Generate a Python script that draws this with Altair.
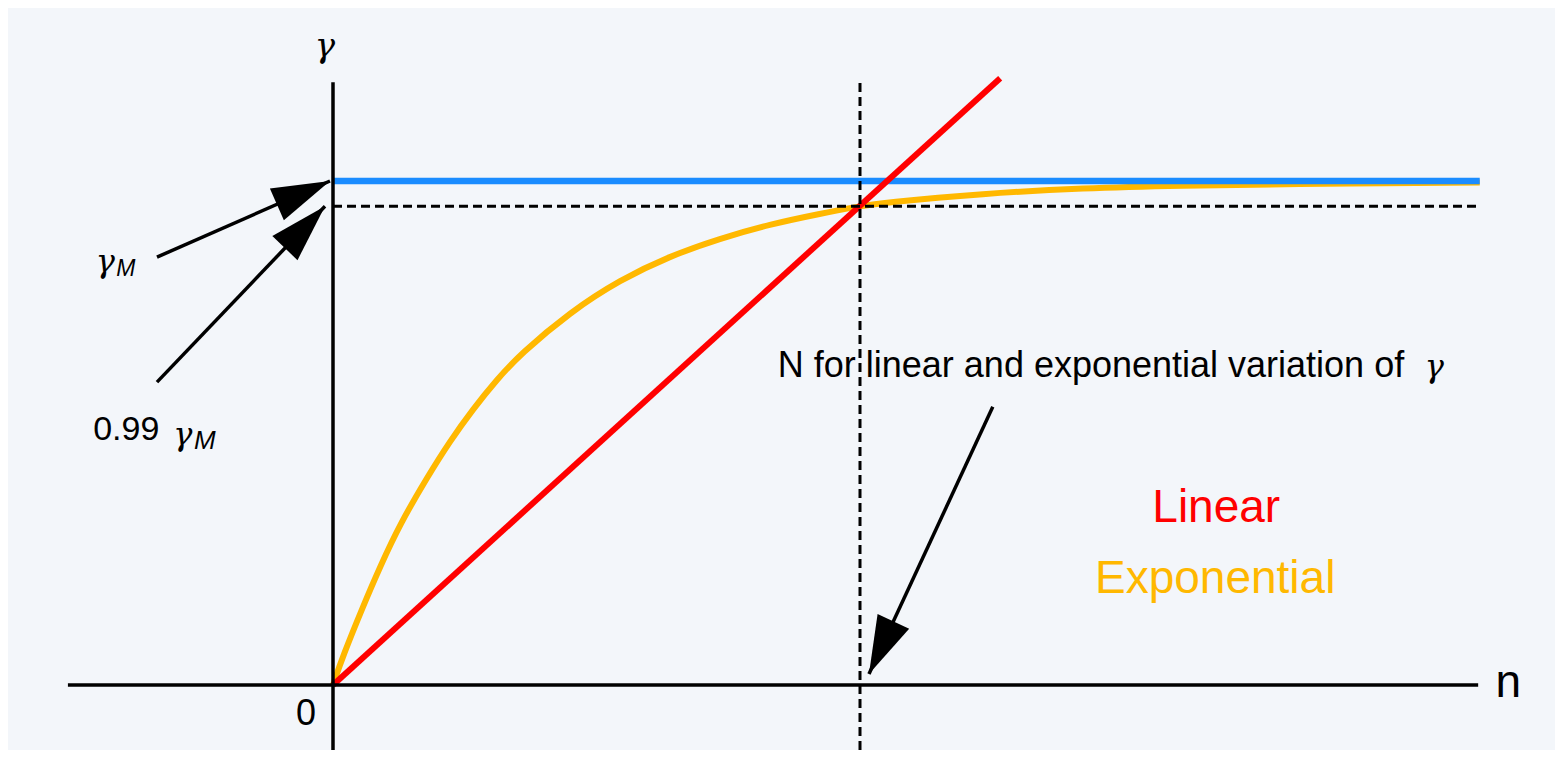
import altair as alt
import pandas as pd

# ---------------- data (in diagram units: n along x, gamma along y) ----------------
X_DOMAIN = [-0.6167, 2.3188]
Y_DOMAIN = [-0.129, 1.3433]

# exponential variation of gamma
exp_n = [0.0, 0.019, 0.057, 0.089, 0.127, 0.178, 0.222, 0.266, 0.311, 0.355, 0.450,
         0.545, 0.639, 0.734, 0.829, 0.924, 1.0, 1.044, 1.233, 1.423, 1.613, 1.803, 2.176]
exp_gamma = [0.0, 0.058, 0.156, 0.234, 0.319, 0.411, 0.484, 0.548, 0.606, 0.656, 0.740,
             0.804, 0.851, 0.886, 0.914, 0.935, 0.950, 0.957, 0.975, 0.986, 0.991, 0.994, 0.997]

# linear variation of gamma
lin_n = [0.0, 1.266]
lin_gamma = [0.0, 1.204]

# levels
gamma_M = 1.0
gamma_99 = 0.95
N_value = 1.0
n_end = 2.176

# axes extents
axis_h = [-0.503, 2.173]
axis_v = [-0.129, 1.196]
dash_v = [-0.129, 1.204]

# annotation arrows: start (x, y) -> tip (x, y), head angle in degrees
arrow_x0 = [-0.334, -0.334, 1.252]
arrow_y0 = [0.849, 0.601, 0.552]
arrow_x1 = [-0.0057, -0.0152, 1.017]
arrow_y1 = [1.0, 0.950, 0.0218]
arrow_angle = [66.3, 43.7, 204.9]

# texts
labels_sans = ["0.99", "N for linear and exponential variation of", "n", "0"]
labels_sans_x = [-0.455, 0.844, 2.230, -0.051]
labels_sans_y = [0.486, 0.611, -0.0238, -0.079]

legend_text = ["Linear", "Exponential"]
legend_x = [1.676, 1.674]
legend_y = [0.323, 0.183]

BG = "#F3F6FA"
RED = "#FF0000"
ORANGE = "#FFB800"
BLUE = "#1A8CFF"
GREEK_FONT = "DejaVu Serif"

xs = alt.Scale(domain=X_DOMAIN, nice=False, zero=False)
ys = alt.Scale(domain=Y_DOMAIN, nice=False, zero=False)


def X(f):
    return alt.X(f, type="quantitative", scale=xs, axis=None)


def Y(f):
    return alt.Y(f, type="quantitative", scale=ys, axis=None)


def seg(x, x2, y, y2, color, width, dash=None):
    df = pd.DataFrame({"x": [x], "x2": [x2], "y": [y], "y2": [y2]})
    kw = dict(color=color, strokeWidth=width)
    if dash:
        kw["strokeDash"] = dash
    return alt.Chart(df).mark_rule(**kw).encode(x=X("x"), x2="x2", y=Y("y"), y2="y2")


def txt(text, x, y, size, color="black", font="Liberation Sans", style="normal",
        align="left", baseline="alphabetic"):
    df = pd.DataFrame({"t": [text], "x": [x], "y": [y]})
    return alt.Chart(df).mark_text(
        fontSize=size, color=color, font=font, fontStyle=style,
        align=align, baseline=baseline
    ).encode(x=X("x"), y=Y("y"), text="t:N")


layers = []

# exponential curve
exp_df = pd.DataFrame({"n": exp_n, "g": exp_gamma})
layers.append(alt.Chart(exp_df).mark_line(color=ORANGE, strokeWidth=6,
                                          interpolate="basis").encode(
    x=X("n"), y=Y("g")))

# gamma_M level
layers.append(seg(0.0, n_end, gamma_M, gamma_M, BLUE, 6.5))

# linear
layers.append(seg(lin_n[0], lin_n[1], lin_gamma[0], lin_gamma[1], RED, 6))

# dashed guides
layers.append(seg(0.0, n_end, gamma_99, gamma_99, "black", 3, [9, 5]))
layers.append(seg(N_value, N_value, dash_v[0], dash_v[1], "black", 3, [9, 5]))

# axes
layers.append(seg(axis_h[0], axis_h[1], 0.0, 0.0, "black", 3.5))
layers.append(seg(0.0, 0.0, axis_v[0], axis_v[1], "black", 3.5))

# arrows
arrow_df = pd.DataFrame({"x0": arrow_x0, "y0": arrow_y0, "x1": arrow_x1,
                         "y1": arrow_y1, "ang": arrow_angle})
layers.append(alt.Chart(arrow_df).mark_rule(color="black", strokeWidth=3.5).encode(
    x=X("x0"), y=Y("y0"), x2="x1", y2="y1"))
layers.append(alt.Chart(arrow_df).mark_point(
    shape="M0,0 L-0.3,1 L0.3,1 Z", filled=True, color="black", opacity=1,
    size=13456, strokeWidth=0
).encode(x=X("x1"), y=Y("y1"), angle=alt.Angle("ang:Q", scale=None)))

# texts
layers.append(txt("γ", -0.0152, 1.266, 34, font=GREEK_FONT, style="italic",
                  align="center", baseline="middle"))
layers.append(txt("γ", -0.432, 0.839, 32, font=GREEK_FONT, style="italic",
                  align="center", baseline="middle"))
layers.append(txt("M", -0.393, 0.826, 23, style="italic", align="center", baseline="middle"))
layers.append(txt(labels_sans[0], labels_sans_x[0], labels_sans_y[0], 34))
layers.append(txt("γ", -0.285, 0.496, 32, font=GREEK_FONT, style="italic",
                  align="center", baseline="middle"))
layers.append(txt("M", -0.243, 0.484, 26, style="italic", align="center", baseline="middle"))
layers.append(txt(labels_sans[1], labels_sans_x[1], labels_sans_y[1], 36))
layers.append(txt("γ", 2.090, 0.611, 32, font=GREEK_FONT, style="italic",
                  align="center"))
layers.append(txt(labels_sans[2], labels_sans_x[2], labels_sans_y[2], 46, align="center"))
layers.append(txt(labels_sans[3], labels_sans_x[3], labels_sans_y[3], 36, align="center"))
layers.append(txt(legend_text[0], legend_x[0], legend_y[0], 46, color=RED, align="center"))
layers.append(txt(legend_text[1], legend_x[1], legend_y[1], 46, color=ORANGE, align="center"))

chart = alt.layer(*layers).properties(
    width=1547, height=742, padding=0, background=BG,
    autosize=alt.AutoSizeParams(type="none")
).configure_view(strokeWidth=0)

chart.save("out.html", embed_options={"renderer": "svg", "actions": False})
